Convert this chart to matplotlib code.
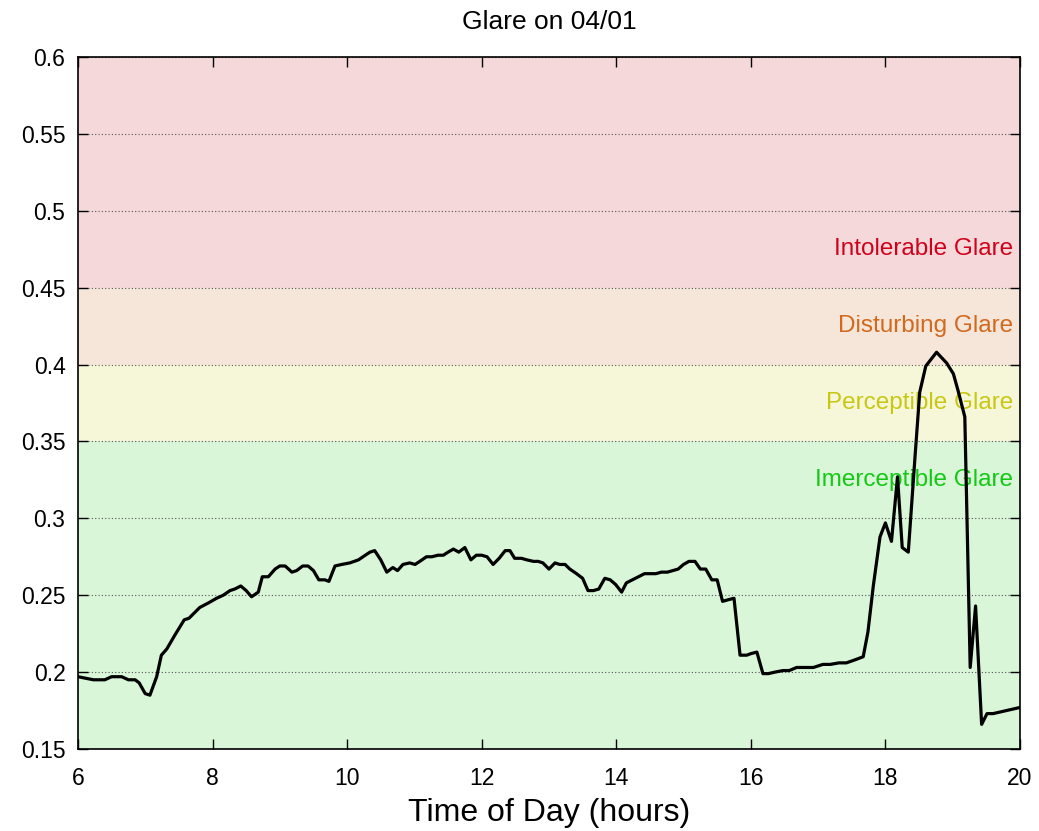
import matplotlib
matplotlib.use("Agg")
import matplotlib.pyplot as plt

plt.rcParams['font.family'] = ['Liberation Sans', 'DejaVu Sans']

# glare index, time in hours
hours = [6.00, 6.23, 6.40, 6.50, 6.65, 6.75, 6.85, 6.91, 7.00, 7.07,
         7.17, 7.24, 7.32, 7.44, 7.58, 7.65, 7.81, 7.94, 8.06, 8.16,
         8.26, 8.33, 8.42, 8.50, 8.58, 8.68, 8.74, 8.83, 8.93, 9.00,
         9.08, 9.18, 9.25, 9.34, 9.42, 9.50, 9.58, 9.67, 9.73, 9.82,
         9.92, 10.04, 10.17, 10.27, 10.34, 10.41, 10.50, 10.59, 10.68, 10.75,
         10.83, 10.93, 11.01, 11.08, 11.18, 11.26, 11.35, 11.43, 11.50, 11.58,
         11.66, 11.75, 11.84, 11.92, 12.00, 12.08, 12.17, 12.26, 12.35, 12.42,
         12.49, 12.59, 12.67, 12.77, 12.84, 12.91, 13.00, 13.09, 13.16, 13.24,
         13.31, 13.41, 13.50, 13.58, 13.66, 13.74, 13.83, 13.91, 13.99, 14.08,
         14.15, 14.24, 14.33, 14.42, 14.50, 14.59, 14.67, 14.76, 14.84, 14.92,
         15.00, 15.08, 15.17, 15.25, 15.33, 15.42, 15.50, 15.58, 15.66, 15.75,
         15.84, 15.94, 16.00, 16.09, 16.18, 16.26, 16.36, 16.48, 16.57, 16.68,
         16.93, 17.07, 17.18, 17.31, 17.42, 17.55, 17.67, 17.74, 17.82, 17.92,
         18.00, 18.09, 18.18, 18.25, 18.34, 18.44, 18.51, 18.60, 18.76, 18.91,
         19.01, 19.08, 19.18, 19.26, 19.34, 19.43, 19.51, 19.60, 20.00]
glare = [0.197, 0.195, 0.195, 0.197, 0.197, 0.195, 0.195, 0.193, 0.186, 0.185,
         0.197, 0.211, 0.215, 0.224, 0.234, 0.235, 0.242, 0.245, 0.248, 0.250,
         0.253, 0.254, 0.256, 0.253, 0.249, 0.252, 0.262, 0.262, 0.267, 0.269,
         0.269, 0.265, 0.266, 0.269, 0.269, 0.266, 0.260, 0.260, 0.259, 0.269,
         0.270, 0.271, 0.273, 0.276, 0.278, 0.279, 0.273, 0.265, 0.268, 0.266,
         0.270, 0.271, 0.270, 0.272, 0.275, 0.275, 0.276, 0.276, 0.278, 0.280,
         0.278, 0.281, 0.273, 0.276, 0.276, 0.275, 0.270, 0.274, 0.279, 0.279,
         0.274, 0.274, 0.273, 0.272, 0.272, 0.271, 0.267, 0.271, 0.270, 0.270,
         0.267, 0.264, 0.261, 0.253, 0.253, 0.254, 0.261, 0.260, 0.257, 0.252,
         0.258, 0.260, 0.262, 0.264, 0.264, 0.264, 0.265, 0.265, 0.266, 0.267,
         0.270, 0.272, 0.272, 0.267, 0.267, 0.260, 0.260, 0.246, 0.247, 0.248,
         0.211, 0.211, 0.212, 0.213, 0.199, 0.199, 0.200, 0.201, 0.201, 0.203,
         0.203, 0.205, 0.205, 0.206, 0.206, 0.208, 0.210, 0.226, 0.256, 0.288,
         0.297, 0.285, 0.327, 0.281, 0.278, 0.340, 0.382, 0.399, 0.408, 0.401,
         0.394, 0.383, 0.366, 0.203, 0.243, 0.166, 0.173, 0.173, 0.177]

# glare zones
zone_lo = [0.15, 0.35, 0.40, 0.45]
zone_hi = [0.35, 0.40, 0.45, 0.60]
zone_names = ['Imerceptible Glare', 'Perceptible Glare', 'Disturbing Glare', 'Intolerable Glare']
zone_label_y = [0.325, 0.375, 0.425, 0.475]
zone_fill = ['#d9f6d9', '#f6f6d9', '#f6e6d9', '#f5d8d9']
zone_text = ['#14c814', '#c8c814', '#d2691e', '#d0021b']

fig = plt.figure(figsize=(10.39, 8.31), dpi=100)
ax = fig.add_axes([0.075, 0.0987, 0.9067, 0.8327])

for lo, hi, fc in zip(zone_lo, zone_hi, zone_fill):
    ax.axhspan(lo, hi, color=fc, zorder=0, lw=0)
for name, ly, tc in zip(zone_names, zone_label_y, zone_text):
    ax.text(0.993, ly, name, transform=ax.get_yaxis_transform(),
            ha='right', va='center', color=tc, fontsize=17.5, zorder=1)

ax.plot(hours, glare, color='black', lw=2.3, zorder=3)

ax.set_xlim(6, 20)
ax.set_ylim(0.15, 0.6)
ax.set_xticks(range(6, 21, 2))
ax.set_yticks([0.15, 0.2, 0.25, 0.3, 0.35, 0.4, 0.45, 0.5, 0.55, 0.6])
ax.set_yticklabels(['0.15', '0.2', '0.25', '0.3', '0.35', '0.4', '0.45', '0.5', '0.55', '0.6'])
ax.yaxis.grid(True, linestyle=(0, (1, 2)), color='#555555', lw=0.8, zorder=2)
ax.tick_params(direction='in', length=7, width=1, top=True, right=True,
               labelsize=16.5, pad=9)
ax.tick_params(axis='x', pad=13)
for s in ax.spines.values():
    s.set_linewidth(1.2)

ax.set_title('Glare on 04/01', fontsize=19, pad=20)
ax.set_xlabel('Time of Day (hours)', fontsize=23, labelpad=6)

fig.savefig('out.png', dpi=100)
